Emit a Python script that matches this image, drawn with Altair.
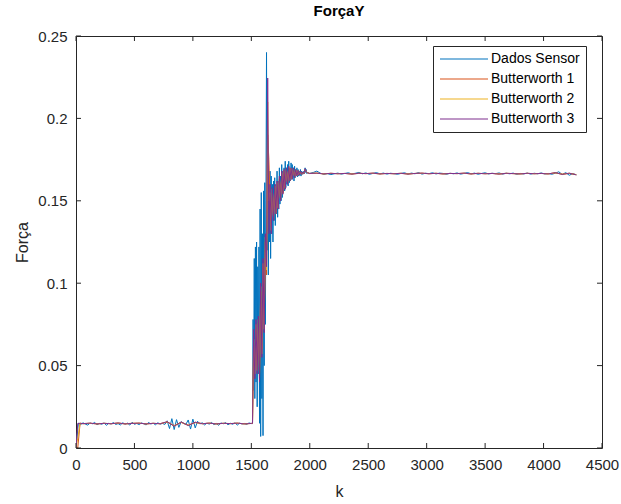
import altair as alt
import pandas as pd

series_names = ["Dados Sensor", "Butterworth 1", "Butterworth 2", "Butterworth 3"]
series_colors = ["#0072BD", "#D95319", "#EDB120", "#7E2F8E"]
x_ticks = [0, 500, 1000, 1500, 2000, 2500, 3000, 3500, 4000, 4500]
y_ticks = [0, 0.05, 0.1, 0.15, 0.2, 0.25]

# ---- Dados Sensor (blue) ----
sensor_flat1 = [0.0,
    0.0150, 0.0142, 0.0153, 0.0145, 0.0139, 0.0151, 0.0147, 0.0155, 0.0141, 0.0149,
    0.0144, 0.0152, 0.0138, 0.0150, 0.0146, 0.0154, 0.0143, 0.0148, 0.0140, 0.0153,
    0.0145, 0.0151, 0.0139, 0.0156, 0.0144, 0.0149, 0.0142, 0.0152, 0.0147, 0.0140,
    0.0155, 0.0146, 0.0150, 0.0141, 0.0153, 0.0145, 0.0149, 0.0143,
    0.0165, 0.0118, 0.0178, 0.0112, 0.0172, 0.0125, 0.0160,
    0.0150, 0.0143,
    0.0170, 0.0115, 0.0175, 0.0122, 0.0162,
    0.0146, 0.0153, 0.0140, 0.0151, 0.0145, 0.0155, 0.0142, 0.0149, 0.0138, 0.0152,
    0.0147, 0.0154, 0.0141, 0.0150, 0.0144, 0.0153, 0.0139, 0.0151, 0.0146, 0.0149,
    0.0143, 0.0152, 0.0148]
sensor_trans = [
    0.0150, 0.0148, 0.0780, 0.0350, 0.1150, 0.0300, 0.1220, 0.0400, 0.1250, 0.0250,
    0.1100, 0.0450, 0.1220, 0.0150, 0.1450, 0.0070, 0.1550, 0.0300, 0.1300, 0.0075,
    0.1560, 0.0500, 0.1610, 0.0750, 0.1500, 0.2400, 0.1200, 0.1800, 0.1050, 0.1550,
    0.1250, 0.1680, 0.1150, 0.1650, 0.1300, 0.1600, 0.1250, 0.1620, 0.1380, 0.1640,
    0.1350, 0.1600, 0.1420, 0.1680, 0.1400, 0.1620, 0.1450, 0.1700, 0.1480, 0.1650,
    0.1500, 0.1720, 0.1520, 0.1680, 0.1550, 0.1700, 0.1560, 0.1740, 0.1580, 0.1700,
    0.1600, 0.1720, 0.1590, 0.1740, 0.1610, 0.1700, 0.1620, 0.1730, 0.1630, 0.1720,
    0.1640, 0.1700, 0.1620, 0.1710, 0.1640, 0.1690, 0.1650, 0.1700, 0.1645, 0.1690,
    0.1650, 0.1680, 0.1655, 0.1690, 0.1650, 0.1680, 0.1660, 0.1675, 0.1662, 0.1680,
    0.1665, 0.1700, 0.1672, 0.1690, 0.1665, 0.1672, 0.1668, 0.1670, 0.1664]
sensor_flat3 = [
    0.1666, 0.1672, 0.1680, 0.1668, 0.1661, 0.1665, 0.1659, 0.1664, 0.1668, 0.1662,
    0.1666, 0.1670, 0.1663, 0.1667, 0.1672, 0.1664, 0.1669, 0.1661, 0.1666, 0.1671,
    0.1664, 0.1668, 0.1662, 0.1667, 0.1665, 0.1661, 0.1666, 0.1670, 0.1663, 0.1668,
    0.1664, 0.1671, 0.1662, 0.1667, 0.1665, 0.1670, 0.1663, 0.1668, 0.1666, 0.1661,
    0.1667, 0.1664, 0.1669, 0.1662, 0.1666, 0.1671, 0.1664, 0.1668, 0.1661, 0.1666,
    0.1670, 0.1663, 0.1667, 0.1665, 0.1669, 0.1662, 0.1667, 0.1664, 0.1668, 0.1661,
    0.1666, 0.1663, 0.1668, 0.1662, 0.1667, 0.1664, 0.1669, 0.1663, 0.1666, 0.1661,
    0.1667, 0.1676, 0.1660, 0.1671, 0.1655, 0.1665, 0.1658]

# ---- Filtered series ----
filt_start_k = [0, 15, 35]
b1_start = [0.0, 0.0, 0.0150]
b2_start = [0.0, 0.0060, 0.0150]
b3_start = [0.0, 0.0149, 0.0150]

b1_flat1 = [0.0147, 0.0150, 0.0147, 0.0149, 0.0148, 0.0151, 0.0147, 0.0150, 0.0150, 0.0147,
            0.0149, 0.0148, 0.0157, 0.0136, 0.0155, 0.0139, 0.0154, 0.0148, 0.0150, 0.0147,
            0.0149, 0.0148, 0.0150, 0.0147, 0.0149]
b2_flat1 = [0.0148, 0.0150, 0.0146, 0.0150, 0.0147, 0.0151, 0.0146, 0.0149, 0.0151, 0.0146,
            0.0150, 0.0147, 0.0159, 0.0134, 0.0157, 0.0137, 0.0156, 0.0147, 0.0151, 0.0146,
            0.0150, 0.0148, 0.0151, 0.0146, 0.0149]
b3_flat1 = [0.0148, 0.0151, 0.0146, 0.0150, 0.0147, 0.0152, 0.0146, 0.0149, 0.0151, 0.0146,
            0.0150, 0.0147, 0.0160, 0.0132, 0.0158, 0.0136, 0.0157, 0.0147, 0.0151, 0.0146,
            0.0150, 0.0148, 0.0151, 0.0146, 0.0149]

b1_trans = [0.0150, 0.0600, 0.0480, 0.0720, 0.0500, 0.0760, 0.0450, 0.0950, 0.0600, 0.1100,
            0.0750, 0.1250, 0.1050, 0.1900, 0.1750, 0.1500, 0.1350, 0.1550, 0.1400, 0.1580,
            0.1430, 0.1600, 0.1460, 0.1630, 0.1510, 0.1660, 0.1550, 0.1680, 0.1580, 0.1690,
            0.1610, 0.1700, 0.1625, 0.1695, 0.1635, 0.1695, 0.1645, 0.1685, 0.1652, 0.1680,
            0.1657, 0.1677, 0.1661, 0.1673, 0.1666, 0.1688, 0.1678, 0.1671, 0.1668, 0.1666]
b2_trans = [0.0150, 0.0660, 0.0450, 0.0750, 0.0470, 0.0780, 0.0420, 0.0980, 0.0570, 0.1120,
            0.0720, 0.1280, 0.1080, 0.2100, 0.1500, 0.1550, 0.1320, 0.1570, 0.1390, 0.1590,
            0.1420, 0.1610, 0.1455, 0.1640, 0.1505, 0.1670, 0.1545, 0.1685, 0.1575, 0.1695,
            0.1605, 0.1705, 0.1622, 0.1698, 0.1632, 0.1698, 0.1642, 0.1688, 0.1651, 0.1683,
            0.1656, 0.1679, 0.1660, 0.1674, 0.1665, 0.1692, 0.1676, 0.1671, 0.1668, 0.1666]
b3_trans = [0.0150, 0.0720, 0.0420, 0.0780, 0.0450, 0.0800, 0.0400, 0.1000, 0.0550, 0.1150,
            0.0700, 0.1300, 0.1100, 0.2245, 0.1300, 0.1600, 0.1300, 0.1580, 0.1380, 0.1600,
            0.1420, 0.1620, 0.1450, 0.1650, 0.1500, 0.1680, 0.1540, 0.1690, 0.1570, 0.1700,
            0.1600, 0.1710, 0.1620, 0.1700, 0.1630, 0.1700, 0.1640, 0.1690, 0.1650, 0.1685,
            0.1655, 0.1680, 0.1660, 0.1675, 0.1665, 0.1695, 0.1675, 0.1670, 0.1668, 0.1666]

b1_flat3 = [0.1667, 0.1664, 0.1666, 0.1665, 0.1666, 0.1663, 0.1666, 0.1665, 0.1667, 0.1664,
            0.1666, 0.1665, 0.1666, 0.1663, 0.1666, 0.1667, 0.1665, 0.1666, 0.1664, 0.1666,
            0.1665, 0.1667, 0.1664, 0.1666, 0.1665, 0.1666, 0.1663, 0.1666, 0.1665, 0.1664,
            0.1666, 0.1665, 0.1666, 0.1664, 0.1669, 0.1662, 0.1666, 0.1659]
b2_flat3 = [0.1668, 0.1663, 0.1667, 0.1664, 0.1666, 0.1663, 0.1667, 0.1665, 0.1667, 0.1663,
            0.1666, 0.1664, 0.1667, 0.1663, 0.1666, 0.1667, 0.1664, 0.1667, 0.1663, 0.1666,
            0.1665, 0.1667, 0.1663, 0.1667, 0.1664, 0.1666, 0.1663, 0.1667, 0.1665, 0.1663,
            0.1667, 0.1664, 0.1666, 0.1663, 0.1670, 0.1661, 0.1667, 0.1658]
b3_flat3 = [0.1668, 0.1663, 0.1667, 0.1664, 0.1666, 0.1662, 0.1667, 0.1665, 0.1668, 0.1663,
            0.1666, 0.1664, 0.1667, 0.1662, 0.1666, 0.1668, 0.1664, 0.1667, 0.1663, 0.1666,
            0.1665, 0.1668, 0.1663, 0.1667, 0.1664, 0.1666, 0.1662, 0.1667, 0.1665, 0.1663,
            0.1667, 0.1664, 0.1666, 0.1663, 0.1671, 0.1660, 0.1668, 0.1657]


def grid(start, step, vals):
    return list(range(start, start + step * len(vals), step))


rows = []


def add(name, ks, vs):
    for k, v in zip(ks, vs):
        rows.append({"series": name, "k": k, "v": v})


add("Dados Sensor", grid(0, 20, sensor_flat1), sensor_flat1)
add("Dados Sensor", grid(1505, 5, sensor_trans), sensor_trans)
add("Dados Sensor", grid(2000, 30, sensor_flat3), sensor_flat3)

for name, st, f1, tr, f3 in [
    ("Butterworth 1", b1_start, b1_flat1, b1_trans, b1_flat3),
    ("Butterworth 2", b2_start, b2_flat1, b2_trans, b2_flat3),
    ("Butterworth 3", b3_start, b3_flat1, b3_trans, b3_flat3),
]:
    add(name, filt_start_k, st)
    add(name, grid(60, 60, f1), f1)
    add(name, grid(1510, 10, tr), tr)
    add(name, grid(2060, 60, f3), f3)

df = pd.DataFrame(rows)

W, H = 526, 412
FONT = "Liberation Sans"
TXT = "#262626"
NBSP = "\u00a0"

X = alt.X("k:Q", scale=alt.Scale(domain=[0, 4500], nice=False, zero=False),
          axis=alt.Axis(values=x_ticks, format="d", title="k", domain=False, ticks=False,
                        grid=False, labelFontSize=15, labelFont=FONT, labelColor=TXT,
                        labelPadding=9, labelFlush=False, titleFontSize=16, titleFont=FONT,
                        titleColor=TXT, titleFontWeight="normal", titleY=43,
                        titleBaseline="middle"))
Y = alt.Y("v:Q", scale=alt.Scale(domain=[0, 0.25], nice=False, zero=False),
          axis=alt.Axis(values=y_ticks, format="~g", title="Força", domain=False, ticks=False,
                        grid=False, labelFontSize=15, labelFont=FONT, labelColor=TXT,
                        labelPadding=9, labelFlush=False, titleFontSize=16, titleFont=FONT,
                        titleColor=TXT, titleFontWeight="normal", titleX=-54,
                        titleBaseline="middle"))
C = alt.Color("series:N", scale=alt.Scale(domain=series_names, range=series_colors),
              legend=alt.Legend(orient="none", legendX=357, legendY=10, title=None,
                                symbolType="M-1,0H7", symbolSize=144, symbolStrokeWidth=1.2,
                                labelFontSize=14, labelFont=FONT, labelColor="#000",
                                labelExpr="datum.label + '" + NBSP * 2 + "'",
                                strokeColor="#262626", fillColor="white", padding=6,
                                rowPadding=6, labelOffset=38))

base = alt.Chart(df).mark_line(strokeWidth=1, clip=True).encode(
    x=X, y=Y, color=C, order="k:Q")
layers = [base.transform_filter(alt.datum.series == s) for s in series_names]

xt = pd.DataFrame({"k": x_ticks})
yt = pd.DataFrame({"v": y_ticks})
tick_style = dict(color=TXT, strokeWidth=1)
ticks = [
    alt.Chart(xt).mark_rule(**tick_style).encode(x=X, y=alt.value(H), y2=alt.value(H - 5)),
    alt.Chart(xt).mark_rule(**tick_style).encode(x=X, y=alt.value(0), y2=alt.value(5)),
    alt.Chart(yt).mark_rule(**tick_style).encode(y=Y, x=alt.value(0), x2=alt.value(5)),
    alt.Chart(yt).mark_rule(**tick_style).encode(y=Y, x=alt.value(W), x2=alt.value(W - 5)),
]

chart = alt.layer(*layers, *ticks).properties(
    width=W, height=H,
    title=alt.Title("ForçaY", fontSize=15, fontWeight="bold", font=FONT, color="#000",
                    anchor="middle", frame="group", offset=10),
    padding={"left": 76, "top": 36, "right": 19, "bottom": 56},
    autosize="none",
    background="white",
).configure_view(stroke=TXT, strokeWidth=1)

chart.save("out.html", embed_options={"renderer": "svg", "actions": False})
